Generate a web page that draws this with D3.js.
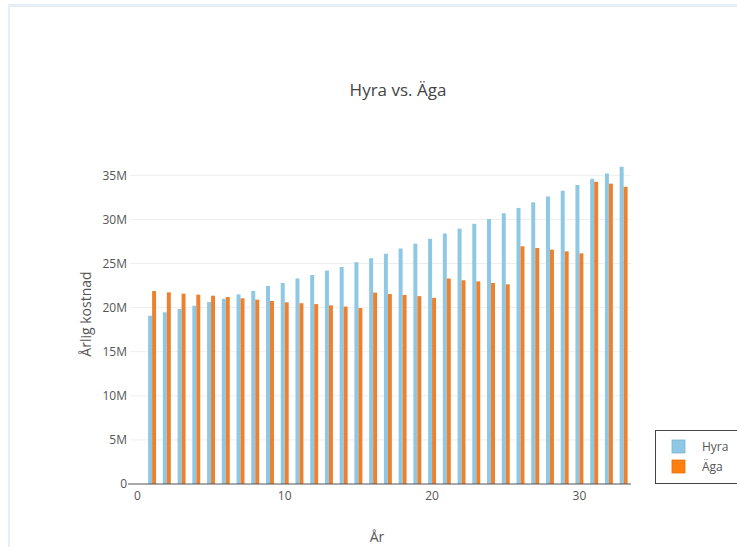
<!DOCTYPE html>
<html><head><meta charset="utf-8">
<script src="https://cdn.jsdelivr.net/npm/d3@7"></script>
<style>body{margin:0;background:#fff;}svg{display:block;font-family:"Open Sans","Noto Sans",sans-serif;}</style>
</head><body>
<svg id="c" width="737" height="547"></svg>
<script>
const years = d3.range(1, 34);
const hyra = [19.08,19.47,19.84,20.22,20.63,21.0,21.5,21.9,22.45,22.8,23.3,23.7,24.2,24.6,25.15,25.6,26.1,26.7,27.25,27.8,28.4,28.95,29.5,30.05,30.7,31.3,31.94,32.6,33.25,33.9,34.6,35.2,35.97];
const aga  = [21.88,21.73,21.58,21.47,21.35,21.2,21.05,20.9,20.75,20.6,20.5,20.4,20.25,20.12,19.95,21.7,21.54,21.43,21.3,21.1,23.3,23.1,22.98,22.8,22.64,26.95,26.76,26.57,26.38,26.15,34.27,34.05,33.7];
const seriesNames = ["Hyra","Äga"];
const seriesColors = ["#8ec8e4","#ff7f0e"];
const barColors = ["#8ec8e4","#ec8230"];
const yTicks = [0,5,10,15,20,25,30,35];
const xTicks = [0,10,20,30];

const svg = d3.select("#c");
// faint screenshot frame
svg.append("rect").attr("x",9).attr("y",5).attr("width",740).attr("height",560)
  .attr("fill","none").attr("stroke","#e3eaf1").attr("stroke-width",1.5);
svg.append("rect").attr("x",9).attr("y",4).attr("width",740).attr("height",3).attr("fill","#e6edf4");

const x = d3.scaleLinear().domain([-0.5,33.5]).range([130,631]);
const y = d3.scaleLinear().domain([0,37.87]).range([484,150]);
const bw = x(0.27)-x(0);

// gridlines
svg.append("g").selectAll("line").data(yTicks.filter(d=>d>0)).join("line")
  .attr("x1",x(-0.5)).attr("x2",x(33.5)).attr("y1",d=>y(d)).attr("y2",d=>y(d))
  .attr("stroke","#eeeeee").attr("stroke-width",1);

// bars
const g = svg.append("g");
[hyra, aga].forEach((vals, si) => {
  g.append("g").selectAll("rect").data(years).join("rect")
    .attr("x", (d,i)=> x(d) + (si===0 ? -bw : 0))
    .attr("width", bw)
    .attr("y", (d,i)=> y(vals[i]))
    .attr("height", (d,i)=> y(0)-y(vals[i]))
    .attr("fill", barColors[si]);
});

// x axis line
svg.append("line").attr("x1",x(-0.5)-2).attr("x2",x(33.5)).attr("y1",y(0)).attr("y2",y(0))
  .attr("stroke","#555").attr("stroke-width",1.2);

// y tick labels
svg.append("g").selectAll("text").data(yTicks).join("text")
  .attr("x",127).attr("y",d=>y(d)).attr("dy","0.35em").attr("text-anchor","end")
  .attr("font-size",12).attr("fill","#555")
  .text(d=> d===0 ? "0" : d+"M");

// x tick labels
svg.append("g").selectAll("text").data(xTicks).join("text")
  .attr("x",d=>x(d)).attr("y",500).attr("text-anchor","middle")
  .attr("font-size",12).attr("fill","#555").text(d=>d);

// title
svg.append("text").attr("x",398).attr("y",96).attr("text-anchor","middle")
  .attr("font-size",17).attr("fill","#444").text("Hyra vs. Äga");

// axis titles
svg.append("text").attr("x",377).attr("y",542).attr("text-anchor","middle")
  .attr("font-size",14).attr("fill","#555").text("År");
svg.append("text").attr("transform","translate(91,314) rotate(-90)").attr("text-anchor","middle")
  .attr("font-size",14).attr("fill","#555").text("Årlig kostnad");

// legend
const lg = svg.append("g");
lg.append("rect").attr("x",655.5).attr("y",430.5).attr("width",100).attr("height",53)
  .attr("fill","#fff").attr("stroke","#444").attr("stroke-width",1);
seriesNames.forEach((n,i)=>{
  lg.append("rect").attr("x",672).attr("y",440+i*20).attr("width",13).attr("height",13)
    .attr("fill",seriesColors[i]).attr("stroke", i===0 ? "#7fb3cc" : "#e9720a").attr("stroke-width",0.8);
  lg.append("text").attr("x",702).attr("y",446.5+i*20).attr("dy","0.35em")
    .attr("font-size",12).attr("fill","#555").text(n);
});
</script>
</body></html>
